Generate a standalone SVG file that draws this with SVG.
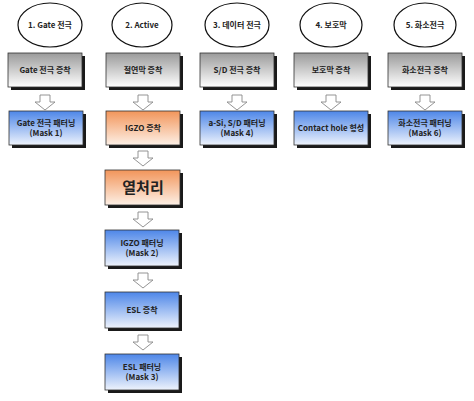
<svg xmlns="http://www.w3.org/2000/svg" width="474" height="401" viewBox="0 0 474 401">
<defs>
<linearGradient id="gGray" x1="0" y1="0" x2="0" y2="1"><stop offset="0" stop-color="#9a9a9a"/><stop offset="1" stop-color="#ffffff"/></linearGradient>
<linearGradient id="gBlue" x1="0" y1="0" x2="0" y2="1"><stop offset="0" stop-color="#4d86e8"/><stop offset="1" stop-color="#eef3fc"/></linearGradient>
<linearGradient id="gOrange" x1="0" y1="0" x2="0" y2="1"><stop offset="0" stop-color="#f2955a"/><stop offset="1" stop-color="#fdf0e6"/></linearGradient>
<path id="arr" d="M-5,0 H5 V7 H10 L0,15 L-10,7 H-5 Z"/>
</defs>
<style>
.sh{fill:#1a1a1a}
.bx{stroke:#333;stroke-width:0.8}
.g{fill:url(#gGray)}
.b{fill:url(#gBlue)}
.o{fill:url(#gOrange)}
.el{fill:#fff;stroke:#111;stroke-width:1.2}
.t{font-family:"Noto Sans CJK KR","Noto Sans",sans-serif;font-weight:bold;font-size:8px;fill:#222;text-anchor:middle}
.big{font-size:15px}
.ar{fill:#fff;stroke:#888;stroke-width:0.9}
</style>
<rect width="474" height="401" fill="#fff"/>
<g id="connectors">
<use href="#arr" class="ar" x="45" y="95"/>
<use href="#arr" class="ar" x="143" y="95"/>
<use href="#arr" class="ar" x="237" y="95"/>
<use href="#arr" class="ar" x="331" y="95"/>
<use href="#arr" class="ar" x="425" y="95"/>
<use href="#arr" class="ar" x="143" y="151"/>
<use href="#arr" class="ar" x="143" y="212"/>
<use href="#arr" class="ar" x="143" y="273"/>
<use href="#arr" class="ar" x="143" y="335"/>
</g>
<g id="h1"><ellipse class="el" cx="50" cy="25" rx="32" ry="22"/><text class="t" x="50" y="28">1. Gate 전극</text></g>
<g id="h2"><ellipse class="el" cx="142" cy="25" rx="30" ry="22"/><text class="t" x="142" y="28">2. Active</text></g>
<g id="h3"><ellipse class="el" cx="237" cy="25" rx="32" ry="22"/><text class="t" x="237" y="28">3. 데이터 전극</text></g>
<g id="h4"><ellipse class="el" cx="331" cy="25" rx="31" ry="22"/><text class="t" x="331" y="28">4. 보호막</text></g>
<g id="h5"><ellipse class="el" cx="425" cy="25" rx="31" ry="22"/><text class="t" x="425" y="28">5. 화소전극</text></g>

<g id="n11"><rect class="sh" x="11" y="56" width="74" height="34"/><rect class="bx g" x="8" y="53" width="74" height="34"/><text class="t" x="45" y="73">Gate 전극 증착</text></g>
<g id="n21"><rect class="sh" x="109" y="56" width="74" height="34"/><rect class="bx g" x="106" y="53" width="74" height="34"/><text class="t" x="143" y="73">절연막 증착</text></g>
<g id="n31"><rect class="sh" x="203" y="56" width="74" height="34"/><rect class="bx g" x="200" y="53" width="74" height="34"/><text class="t" x="237" y="73">S/D 전극 증착</text></g>
<g id="n41"><rect class="sh" x="297" y="56" width="74" height="34"/><rect class="bx g" x="294" y="53" width="74" height="34"/><text class="t" x="331" y="73">보호막 증착</text></g>
<g id="n51"><rect class="sh" x="391" y="56" width="74" height="34"/><rect class="bx g" x="388" y="53" width="74" height="34"/><text class="t" x="425" y="73">화소전극 증착</text></g>

<g id="n12"><rect class="sh" x="12" y="114" width="74" height="34"/><rect class="bx b" x="9" y="111" width="74" height="34"/><text class="t" x="46" y="126">Gate 전극 패터닝</text><text class="t" x="46" y="136">(Mask 1)</text></g>
<g id="n22"><rect class="sh" x="109" y="114" width="74" height="34"/><rect class="bx o" x="106" y="111" width="74" height="34"/><text class="t" x="143" y="131">IGZO 증착</text></g>
<g id="n32"><rect class="sh" x="203" y="114" width="74" height="34"/><rect class="bx b" x="200" y="111" width="74" height="34"/><text class="t" x="237" y="126">a-Si, S/D 패터닝</text><text class="t" x="237" y="136">(Mask 4)</text></g>
<g id="n42"><rect class="sh" x="297" y="114" width="74" height="34"/><rect class="bx b" x="294" y="111" width="74" height="34"/><text class="t" x="331" y="131">Contact hole 형성</text></g>
<g id="n52"><rect class="sh" x="391" y="114" width="74" height="34"/><rect class="bx b" x="388" y="111" width="74" height="34"/><text class="t" x="425" y="126">화소전극 패터닝</text><text class="t" x="425" y="136">(Mask 6)</text></g>

<g id="n23"><rect class="sh" x="108" y="173" width="75" height="35"/><rect class="bx o" x="105" y="170" width="75" height="35"/><text class="t big" x="143" y="193">열처리</text></g>
<g id="n24"><rect class="sh" x="108" y="233" width="74" height="36"/><rect class="bx b" x="105" y="230" width="74" height="36"/><text class="t" x="142" y="246">IGZO 패터닝</text><text class="t" x="142" y="256">(Mask 2)</text></g>
<g id="n25"><rect class="sh" x="108" y="295" width="74" height="36"/><rect class="bx b" x="105" y="292" width="74" height="36"/><text class="t" x="142" y="313">ESL 증착</text></g>
<g id="n26"><rect class="sh" x="108" y="357" width="74" height="36"/><rect class="bx b" x="105" y="354" width="74" height="36"/><text class="t" x="142" y="370">ESL 패터닝</text><text class="t" x="142" y="380">(Mask 3)</text></g>
</svg>
